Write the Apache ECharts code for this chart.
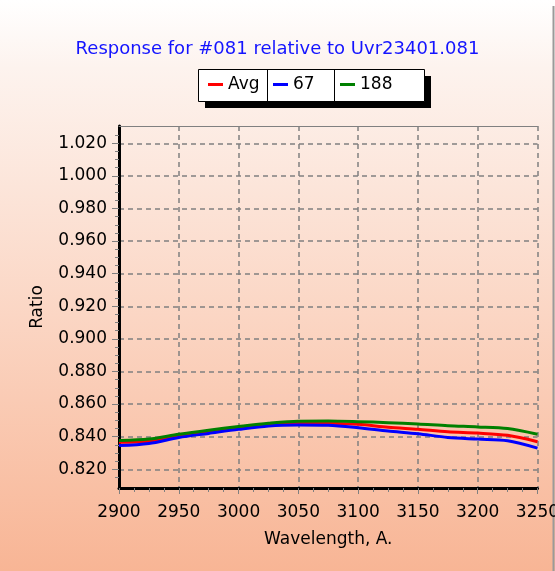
<!DOCTYPE html>
<html>
<head>
<meta charset="utf-8">
<script src="https://cdn.jsdelivr.net/npm/echarts@6/dist/echarts.min.js"></script>
<style>
  html, body { margin: 0; padding: 0; }
  #chart {
    width: 555px; height: 571px;
    background: linear-gradient(to bottom, #ffffff 0%, #fdf3ee 12%, #fbd6c4 55%, #f8b595 100%);
  }
</style>
</head>
<body>
<div id="chart"></div>
<script>
    // wavelength grid, A.
    var wavelengths = [2900, 2925, 2950, 2975, 3000, 3025, 3050, 3075, 3100, 3125, 3150, 3175, 3200, 3225, 3250];
    var avgRatio = [0.8365, 0.8372, 0.8405, 0.8430, 0.8453, 0.8474, 0.8484, 0.8483, 0.8476, 0.8458, 0.8445, 0.8430, 0.8422, 0.8408, 0.8369];
    var ratio67  = [0.8345, 0.8358, 0.8395, 0.8420, 0.8445, 0.8466, 0.8472, 0.8470, 0.8455, 0.8435, 0.8418, 0.8395, 0.8385, 0.8375, 0.8330];
    var ratio188 = [0.8376, 0.8385, 0.8415, 0.8440, 0.8462, 0.8482, 0.8495, 0.8496, 0.8492, 0.8486, 0.8478, 0.8467, 0.8460, 0.8450, 0.8415];
    var yTicks = [0.82, 0.84, 0.86, 0.88, 0.90, 0.92, 0.94, 0.96, 0.98, 1.00, 1.02];
    var yMinorTicks = [];
    for (var i = 0; i < yTicks.length - 1; i++) {
        for (var k = 1; k < 4; k++) yMinorTicks.push(+(yTicks[i] + k * 0.005).toFixed(3));
    }
    yMinorTicks.push(0.815, 1.025);

    function pairs(vals) {
        return wavelengths.map(function (w, i) { return [w, vals[i]]; });
    }

    var font = 'DejaVu Sans';
    var yMin = 0.8085, yMax = 1.0306;

    var myChart = echarts.init(document.getElementById('chart'));
    var legendText = { color: '#000', fontFamily: font, fontSize: 17 };
    var option = {
        backgroundColor: 'transparent',
        animation: false,
        title: {
            text: 'Response for #081 relative to Uvr23401.081',
            left: 'center',
            top: 35,
            textStyle: { color: '#1414ff', fontFamily: font, fontSize: 18, fontWeight: 'normal' }
        },
        graphic: [
            { type: 'line', shape: { x1: 553.5, y1: 6, x2: 553.5, y2: 571 }, style: { stroke: '#9a9a9a', lineWidth: 2 } },
            { type: 'rect', shape: { x: 205, y: 76, width: 226, height: 32 }, style: { fill: '#000' } },
            { type: 'rect', shape: { x: 198.5, y: 69.5, width: 226, height: 32 }, style: { fill: '#fff', stroke: '#000', lineWidth: 1 } },
            { type: 'line', shape: { x1: 267.5, y1: 69.5, x2: 267.5, y2: 101.5 }, style: { stroke: '#000', lineWidth: 1 } },
            { type: 'line', shape: { x1: 334.5, y1: 69.5, x2: 334.5, y2: 101.5 }, style: { stroke: '#000', lineWidth: 1 } }
        ],
        legend: [
            { data: ['Avg'], left: 208, top: 76, padding: 0, icon: 'rect', itemWidth: 15, itemHeight: 3, textStyle: legendText },
            { data: ['67'], left: 273, top: 76, padding: 0, icon: 'rect', itemWidth: 15, itemHeight: 3, textStyle: legendText },
            { data: ['188'], left: 340, top: 76, padding: 0, icon: 'rect', itemWidth: 15, itemHeight: 3, textStyle: legendText }
        ],
        grid: { left: 119, right: 17.5, top: 126, bottom: 83, outerBoundsMode: 'none', containLabel: false },
        xAxis: [{
            type: 'value',
            min: 2900, max: 3250, interval: 50,
            name: 'Wavelength, A.',
            nameLocation: 'middle',
            nameGap: 43,
            nameTextStyle: { color: '#000', fontFamily: font, fontSize: 17 },
            axisLine: { lineStyle: { color: '#000', width: 3 } },
            axisTick: { length: 6, lineStyle: { color: '#808080', width: 1 } },
            minorTick: { show: true, splitNumber: 4, length: 4, lineStyle: { color: '#808080' } },
            axisLabel: {
                color: '#000', fontFamily: font, fontSize: 17, margin: 16, showMaxLabel: true,
                formatter: function (v) { return String(v); }
            },
            splitLine: { show: true, lineStyle: { color: '#808080', type: [5, 4], width: 1.5 } }
        }, {
            type: 'value', position: 'top',
            min: 2900, max: 3250,
            axisLine: { lineStyle: { color: '#808080', width: 1 } },
            axisTick: { show: false }, axisLabel: { show: false }, splitLine: { show: false }
        }],
        yAxis: [{
            type: 'value',
            min: yMin, max: yMax,
            name: 'Ratio',
            nameLocation: 'middle',
            nameGap: 73,
            nameTextStyle: { color: '#000', fontFamily: font, fontSize: 17 },
            axisLine: { show: true, lineStyle: { color: '#000', width: 3 } },
            axisTick: { show: true, length: 7, customValues: yTicks, lineStyle: { color: '#808080', width: 1 } },
            axisLabel: {
                customValues: yTicks, color: '#000', fontFamily: font, fontSize: 17, margin: 12,
                formatter: function (v) { return v.toFixed(3); }
            },
            splitLine: { show: true, lineStyle: { color: '#808080', type: [5, 4], width: 1.5 } }
        }, {
            type: 'value',
            position: 'left',
            min: yMin, max: yMax,
            axisLine: { show: false },
            axisTick: { show: true, length: 4, customValues: yMinorTicks, lineStyle: { color: '#808080', width: 1 } },
            axisLabel: { show: false },
            splitLine: { show: false }
        }],
        series: [{
            name: 'Avg', type: 'line', smooth: 0.3, showSymbol: false,
            data: pairs(avgRatio), color: '#ff0000', lineStyle: { width: 3 }
        }, {
            name: '67', type: 'line', smooth: 0.3, showSymbol: false,
            data: pairs(ratio67), color: '#0000ff', lineStyle: { width: 3 }
        }, {
            name: '188', type: 'line', smooth: 0.3, showSymbol: false,
            data: pairs(ratio188), color: '#008000', lineStyle: { width: 3 }
        }]
    };
    myChart.setOption(option);
</script>
</body>
</html>
